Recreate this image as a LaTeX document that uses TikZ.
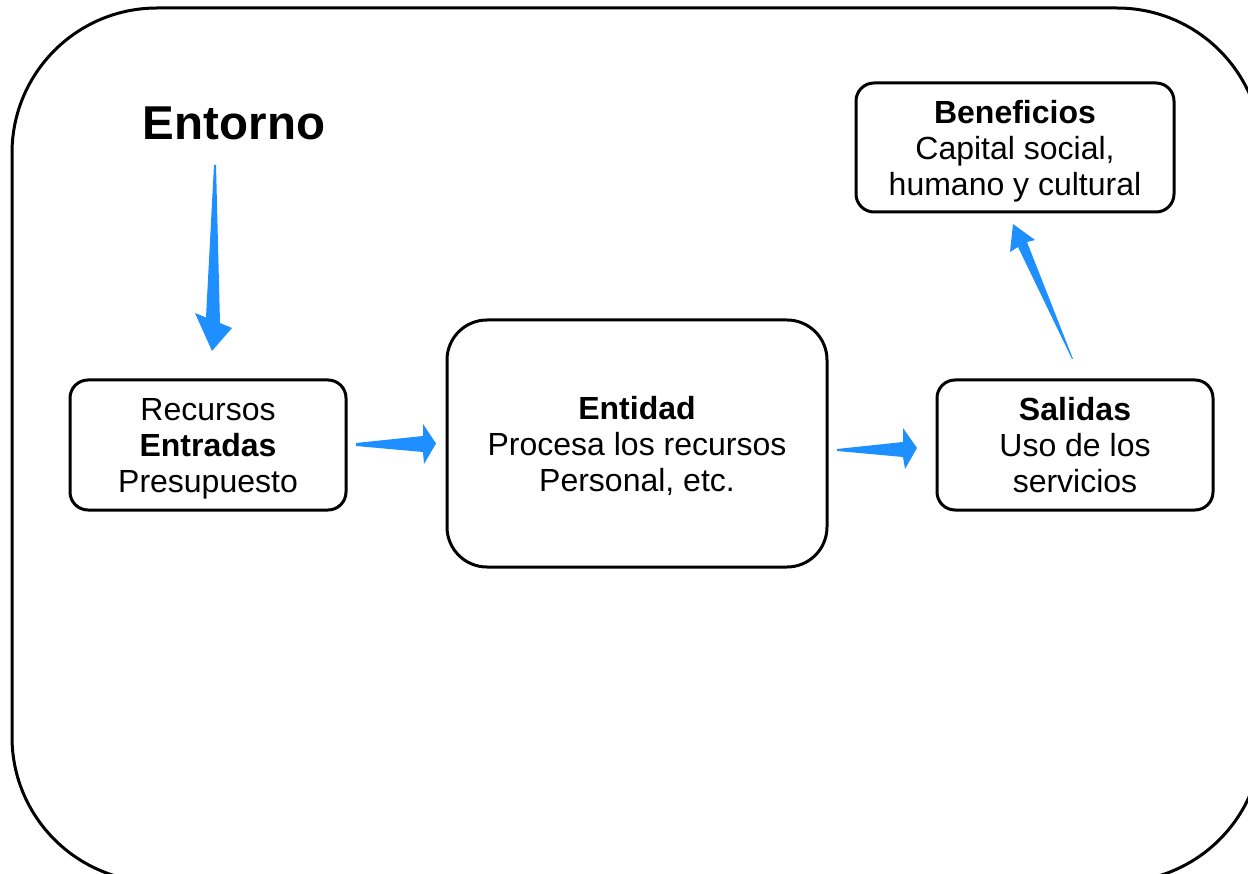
\documentclass[tikz,border=0pt]{standalone}
\usepackage{fontspec}
\setmainfont{Liberation Sans}
\definecolor{flow}{RGB}{30,143,255}
\begin{document}
\begin{tikzpicture}[x=1pt,y=-1pt,
  box/.style={draw=black, line width=3pt, rounded corners=18pt, align=center,
    inner sep=0pt, font=\fontsize{32}{36}\selectfont},
  flowarrow/.style={fill=flow, draw=none}]
\useasboundingbox (0,0) rectangle (1248,874);
\fill[white] (0,0) rectangle (1248,874);

% surrounding environment frame
\draw[line width=3pt, rounded corners=145pt] (12,8) rectangle (1262,882);

\node[font=\fontsize{47.5}{52}\selectfont\bfseries] (entorno) at (234,123) {Entorno};

% last lines are smashed so descenders do not shift the centred text
\node[box, minimum width=276pt, minimum height=130pt] (entradas) at (208,445)
  {Recursos\\\textbf{Entradas}\\\smash{Presupuesto}};
\node[box, rounded corners=40pt, minimum width=380pt, minimum height=247pt] (entidad) at (637,443.5)
  {\textbf{Entidad}\\Procesa los recursos\\\smash{Personal, etc.}};
\node[box, minimum width=276pt, minimum height=130pt] (salidas) at (1075,445)
  {\textbf{Salidas}\\Uso de los\\\smash{servicios}};
\node[box, minimum width=318pt, minimum height=129pt] (beneficios) at (1015,147.5)
  {\textbf{Beneficios}\\Capital social,\\\smash{humano y cultural}};

% tapered arrows
\fill[flowarrow] (214,165) -- (216,165) -- (220,323) -- (232,328) -- (212,351)
  -- (195,313) -- (206,317.5) -- cycle;
\fill[flowarrow] (356,443) -- (423,436) -- (423,424) -- (436,443.5) -- (424,464)
  -- (423,452) -- (356,446) -- cycle;
\fill[flowarrow] (837,449) -- (903,442) -- (903,428) -- (917,448) -- (905,469)
  -- (903,457) -- (837,451) -- cycle;
\fill[flowarrow] (1073,359) -- (1027,242) -- (1035,240) -- (1013,224) -- (1010,252)
  -- (1018,247) -- (1072,359) -- cycle;
\end{tikzpicture}
\end{document}
